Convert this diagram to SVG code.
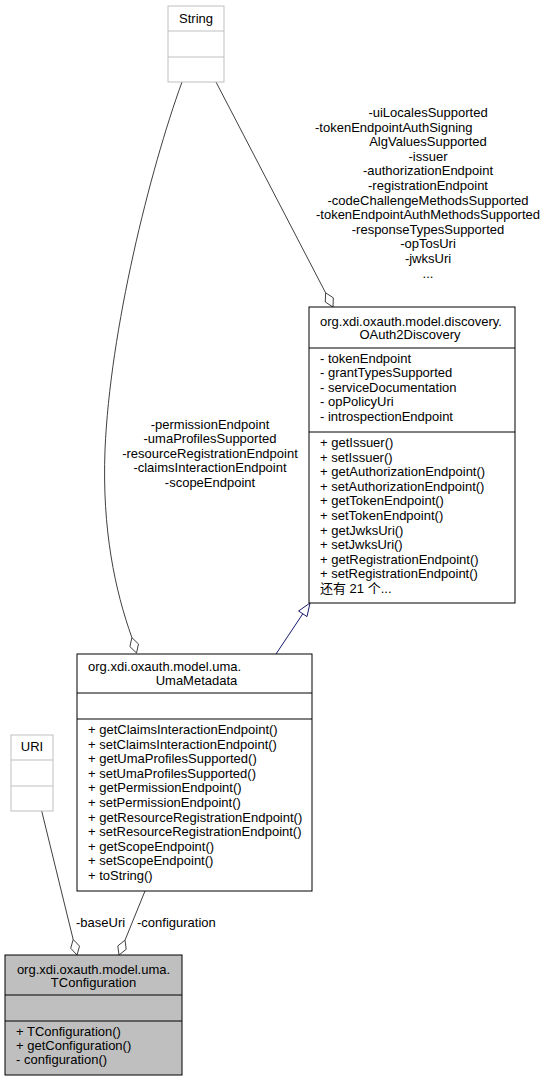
<svg xmlns="http://www.w3.org/2000/svg" width="545" height="1081" viewBox="0 0 545 1081">
<style>
text{font-family:"Liberation Sans",Arial,"Noto Sans CJK SC",sans-serif;font-size:13px;fill:#000}
.c{text-anchor:middle}
.box{fill:#fff;stroke:#000;stroke-width:1}
.gbox{fill:#fff;stroke:#bfbfbf;stroke-width:1}
.cur{fill:#bfbfbf;stroke:#000;stroke-width:1}
.sep{stroke:#000;stroke-width:1}
.gsep{stroke:#bfbfbf;stroke-width:1}
.edge{fill:none;stroke:#404040;stroke-width:1}
.dia{fill:#fff;stroke:#404040;stroke-width:1}
.gen{fill:none;stroke:#191970;stroke-width:1}
.genh{fill:#fff;stroke:#191970;stroke-width:1}
</style>
<rect width="545" height="1081" fill="#fff"/>
<g id="connectors">
  <path class="edge" d="M216,82 L325.6,292.8"/>
  <polygon class="dia" points="325.6,292.8 333.3,297.8 333,307 325.3,302"/>
  <path class="edge" d="M182,82 C150,170 110,330 105,450 C102,530 115,590 131.9,637.7"/>
  <polygon class="dia" points="131.9,637.7 138.5,644 136.5,653 129.9,646.6"/>
  <path class="gen" d="M276,654 L302.8,613.8"/>
  <polygon class="genh" points="310,603 298.6,611 307,616.6"/>
  <path class="edge" d="M41.7,811 L73.2,939.5"/>
  <polygon class="dia" points="73.2,939.5 79.5,946.1 77,955 70.7,948.3"/>
  <path class="edge" d="M145,891 L125,940.2"/>
  <polygon class="dia" points="125,940.2 126.2,949.3 119,955 117.8,945.9"/>
  <g id="labels-discovery">
    <text class="c" x="428" y="117">-uiLocalesSupported</text>
    <text x="315" y="131.6">-tokenEndpointAuthSigning</text>
    <text class="c" x="428" y="146.2">AlgValuesSupported</text>
    <text class="c" x="428" y="160.8">-issuer</text>
    <text class="c" x="428" y="175.4">-authorizationEndpoint</text>
    <text class="c" x="428" y="190">-registrationEndpoint</text>
    <text class="c" x="428" y="204.6">-codeChallengeMethodsSupported</text>
    <text class="c" x="428" y="219.2">-tokenEndpointAuthMethodsSupported</text>
    <text class="c" x="428" y="233.8">-responseTypesSupported</text>
    <text class="c" x="428" y="248.4">-opTosUri</text>
    <text class="c" x="428" y="263">-jwksUri</text>
    <text class="c" x="428" y="277.6">...</text>
  </g>
  <g id="labels-uma">
    <text class="c" x="210" y="428.5">-permissionEndpoint</text>
    <text class="c" x="210" y="443">-umaProfilesSupported</text>
    <text class="c" x="210" y="457.5">-resourceRegistrationEndpoint</text>
    <text class="c" x="210" y="472">-claimsInteractionEndpoint</text>
    <text class="c" x="210" y="486.5">-scopeEndpoint</text>
  </g>
  <text x="76" y="926.5">-baseUri</text>
  <text x="137" y="926.5">-configuration</text>
</g>
<g id="String">
  <rect class="gbox" x="168" y="6" width="56" height="76"/>
  <line class="gsep" x1="168" y1="31" x2="224" y2="31"/>
  <line class="gsep" x1="168" y1="57" x2="224" y2="57"/>
  <text class="c" x="196" y="22.5">String</text>
</g>
<g id="OAuth2Discovery">
  <rect class="box" x="309" y="307" width="206" height="296"/>
  <line class="sep" x1="309" y1="348" x2="515" y2="348"/>
  <line class="sep" x1="309" y1="432" x2="515" y2="432"/>
  <text class="c" x="411" y="325.5">org.xdi.oxauth.model.discovery.</text>
  <text class="c" x="410" y="338.5">OAuth2Discovery</text>
  <text x="320" y="362.5">- tokenEndpoint</text>
  <text x="320" y="377">- grantTypesSupported</text>
  <text x="320" y="391.5">- serviceDocumentation</text>
  <text x="320" y="406">- opPolicyUri</text>
  <text x="320" y="420.5">- introspectionEndpoint</text>
  <text x="320" y="447">+ getIssuer()</text>
  <text x="320" y="461.6">+ setIssuer()</text>
  <text x="320" y="476.2">+ getAuthorizationEndpoint()</text>
  <text x="320" y="490.8">+ setAuthorizationEndpoint()</text>
  <text x="320" y="505.4">+ getTokenEndpoint()</text>
  <text x="320" y="520">+ setTokenEndpoint()</text>
  <text x="320" y="534.6">+ getJwksUri()</text>
  <text x="320" y="549.2">+ setJwksUri()</text>
  <text x="320" y="563.8">+ getRegistrationEndpoint()</text>
  <text x="320" y="578.4">+ setRegistrationEndpoint()</text>
  <text x="320" y="593">还有 21 个...</text>
</g>
<g id="UmaMetadata">
  <rect class="box" x="77" y="654" width="235" height="237"/>
  <line class="sep" x1="77" y1="693" x2="312" y2="693"/>
  <line class="sep" x1="77" y1="719" x2="312" y2="719"/>
  <text x="88" y="671">org.xdi.oxauth.model.uma.</text>
  <text class="c" x="196.5" y="685">UmaMetadata</text>
  <text x="88" y="734">+ getClaimsInteractionEndpoint()</text>
  <text x="88" y="748.6">+ setClaimsInteractionEndpoint()</text>
  <text x="88" y="763.2">+ getUmaProfilesSupported()</text>
  <text x="88" y="777.8">+ setUmaProfilesSupported()</text>
  <text x="88" y="792.4">+ getPermissionEndpoint()</text>
  <text x="88" y="807">+ setPermissionEndpoint()</text>
  <text x="88" y="821.6">+ getResourceRegistrationEndpoint()</text>
  <text x="88" y="836.2">+ setResourceRegistrationEndpoint()</text>
  <text x="88" y="850.8">+ getScopeEndpoint()</text>
  <text x="88" y="865.4">+ setScopeEndpoint()</text>
  <text x="88" y="880">+ toString()</text>
</g>
<g id="URI">
  <rect class="gbox" x="11" y="735" width="42" height="76"/>
  <line class="gsep" x1="11" y1="760" x2="53" y2="760"/>
  <line class="gsep" x1="11" y1="786" x2="53" y2="786"/>
  <text class="c" x="32" y="751">URI</text>
</g>
<g id="TConfiguration">
  <rect class="cur" x="5" y="955" width="177" height="120"/>
  <line class="sep" x1="5" y1="995" x2="182" y2="995"/>
  <line class="sep" x1="5" y1="1021" x2="182" y2="1021"/>
  <text class="c" x="93.5" y="973.5">org.xdi.oxauth.model.uma.</text>
  <text class="c" x="93.5" y="986.5">TConfiguration</text>
  <text x="16" y="1035.5">+ TConfiguration()</text>
  <text x="16" y="1049.5">+ getConfiguration()</text>
  <text x="16" y="1063.5">- configuration()</text>
</g>
</svg>
